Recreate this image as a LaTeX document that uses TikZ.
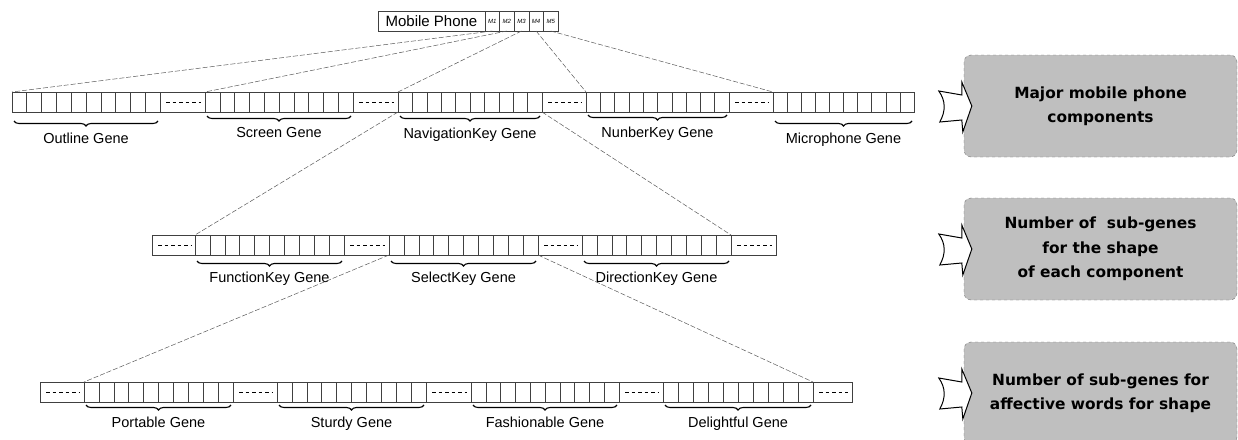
\documentclass[tikz,border=0pt]{standalone}
\usepackage{fontspec}
\setmainfont{Liberation Sans}
\newfontfamily\notefont{DejaVu Sans}
\usetikzlibrary{positioning,calc,decorations.pathreplacing}

\begin{document}
\begin{tikzpicture}[
    x=1pt, y=-1pt,
    node distance=0pt,
    gene/.style={rectangle, draw=black!75, line width=0.6pt, minimum width=149pt, minimum height=20pt, inner sep=0pt, outer sep=0pt},
    gap/.style={gene, minimum width=44pt, path picture={\draw[black, line width=1pt, dash pattern=on 3.5pt off 3pt] ([xshift=6pt]path picture bounding box.west) -- ([xshift=-4pt]path picture bounding box.east);}},
    cell/.style={rectangle, draw=black!75, line width=0.6pt, minimum width=14.6pt, minimum height=20pt, inner sep=0pt, outer sep=0pt, font=\fontsize{6}{6}\selectfont\itshape},
    brace/.style={decorate, decoration={brace, amplitude=5pt}, line width=1.1pt},
    genelabel/.style={font=\fontsize{14.5}{16}\selectfont, inner sep=0pt},
    link/.style={draw=black!65, line width=0.5pt, dash pattern=on 5pt off 2pt},
    note/.style={rectangle, rounded corners=7pt, draw=black!55, dashed, fill=black!25, minimum width=273pt, minimum height=102pt, align=center, font=\notefont\bfseries\fontsize{15.4}{24.5}\selectfont},
    fatarrow/.pic={\draw[line width=1pt, fill=white, line join=miter] (-33,-15) -- (-10,-11) -- (-10,-24) -- (0,0) -- (-9,26) -- (-10,14) -- (-32,16) .. controls (-26,5) and (-26,-5) .. (-33,-15) -- cycle;}
]
\useasboundingbox (0,0) rectangle (1238,439);

% Mobile phone chromosome
\node[cell, minimum width=107pt, font=\fontsize{15}{17}\selectfont, anchor=north west] (mp) at (378,11) {Mobile Phone};
\node[cell, right=of mp] (m1) {M1};
\node[cell, right=of m1] (m2) {M2};
\node[cell, right=of m2] (m3) {M3};
\node[cell, right=of m3] (m4) {M4};
\node[cell, right=of m4] (m5) {M5};

% Component genes
\node[gene, minimum width=148pt, anchor=north west] (ol) at (12,92) {};
\node[gap, minimum width=45pt, right=of ol] (g11) {};
\node[gene, minimum width=148pt, right=of g11] (sc) {};
\node[gap, minimum width=45pt, right=of sc] (g12) {};
\node[gene, minimum width=144pt, right=of g12] (nv) {};
\node[gap, right=of nv] (g13) {};
\node[gene, minimum width=143pt, right=of g13] (nb) {};
\node[gap, right=of nb] (g14) {};
\node[gene, minimum width=141pt, right=of g14] (mc) {};

% Navigation key sub-genes
\node[gap, minimum width=43pt, anchor=north west] (g21) at (152,235) {};
\node[gene, right=of g21] (fk) {};
\node[gap, minimum width=45pt, right=of fk] (g22) {};
\node[gene, right=of g22] (sk) {};
\node[gap, right=of sk] (g23) {};
\node[gene, right=of g23] (dk) {};
\node[gap, minimum width=45pt, right=of dk] (g24) {};

% Affective word sub-genes
\node[gap, anchor=north west] (g31) at (40,382) {};
\node[gene, right=of g31] (pt) {};
\node[gap, right=of pt] (g32) {};
\node[gene, right=of g32] (sd) {};
\node[gap, minimum width=45pt, right=of sd] (g33) {};
\node[gene, minimum width=148pt, right=of g33] (fs) {};
\node[gap, right=of fs] (g34) {};
\node[gene, minimum width=150pt, right=of g34] (dl) {};
\node[gap, minimum width=39pt, right=of dl] (g35) {};

% Cells
\foreach \g in {ol,sc,nv,nb,mc,fk,sk,dk,pt,sd,fs,dl}
    \foreach \i in {1,...,9}
        \draw[black!75, line width=0.6pt] ($(\g.north west)!\i/10!(\g.north east)$) -- ($(\g.south west)!\i/10!(\g.south east)$);

% Braces
\draw[brace] ([xshift=-2pt,yshift=-9pt]ol.south east) -- ([xshift=2pt,yshift=-9pt]ol.south west) node[genelabel, midway, below=11pt] {Outline Gene};
\draw[brace] ([xshift=-2pt,yshift=-4pt]sc.south east) -- ([xshift=2pt,yshift=-4pt]sc.south west) node[genelabel, midway, below=11pt] {Screen Gene};
\draw[brace] ([xshift=-2pt,yshift=-4pt]nv.south east) -- ([xshift=2pt,yshift=-4pt]nv.south west) node[genelabel, midway, below=11pt] {NavigationKey Gene};
\draw[brace] ([xshift=-2pt,yshift=-3pt]nb.south east) -- ([xshift=2pt,yshift=-3pt]nb.south west) node[genelabel, midway, below=11pt] {NunberKey Gene};
\draw[brace] ([xshift=-2pt,yshift=-9pt]mc.south east) -- ([xshift=2pt,yshift=-9pt]mc.south west) node[genelabel, midway, below=11pt] {Microphone Gene};
\draw[brace] ([xshift=-2pt,yshift=-6pt]fk.south east) -- ([xshift=2pt,yshift=-6pt]fk.south west) node[genelabel, midway, below=10pt] {FunctionKey Gene};
\draw[brace] ([xshift=-2pt,yshift=-6pt]sk.south east) -- ([xshift=2pt,yshift=-6pt]sk.south west) node[genelabel, midway, below=10pt] {SelectKey Gene};
\draw[brace] ([xshift=-2pt,yshift=-6pt]dk.south east) -- ([xshift=2pt,yshift=-6pt]dk.south west) node[genelabel, midway, below=10pt] {DirectionKey Gene};
\draw[brace] ([xshift=-2pt,yshift=-3pt]pt.south east) -- ([xshift=2pt,yshift=-3pt]pt.south west) node[genelabel, midway, below=11pt] {Portable Gene};
\draw[brace] ([xshift=-2pt,yshift=-3pt]sd.south east) -- ([xshift=2pt,yshift=-3pt]sd.south west) node[genelabel, midway, below=11pt] {Sturdy Gene};
\draw[brace] ([xshift=-2pt,yshift=-3pt]fs.south east) -- ([xshift=2pt,yshift=-3pt]fs.south west) node[genelabel, midway, below=11pt] {Fashionable Gene};
\draw[brace] ([xshift=-2pt,yshift=-3pt]dl.south east) -- ([xshift=2pt,yshift=-3pt]dl.south west) node[genelabel, midway, below=11pt] {Delightful Gene};

% Links
\draw[link] (m1.south) -- (ol.north west);
\draw[link] (m2.south) -- (sc.north west);
\draw[link] (m3.south) -- (nv.north west);
\draw[link] (m4.south) -- (nb.north west);
\draw[link] (m5.south) -- (mc.north west);
\draw[link] (nv.south west) -- (fk.north west);
\draw[link] (nv.south east) -- (dk.north east);
\draw[link] (sk.south west) -- (pt.north west);
\draw[link] (sk.south east) -- (dl.north east);

% Levels
\node[note] (n1) at (1100.5,106) {Major mobile phone\\components};
\node[note] (n2) at (1100.5,249) {Number of\ \ sub-genes\\for the shape\\of each component};
\node[note] (n3) at (1100.5,393) {Number of sub-genes for\\affective words for shape};
\pic at ([xshift=8pt]n1.west) {fatarrow};
\pic at ([xshift=8pt]n2.west) {fatarrow};
\pic at ([xshift=8pt]n3.west) {fatarrow};

\end{tikzpicture}
\end{document}
